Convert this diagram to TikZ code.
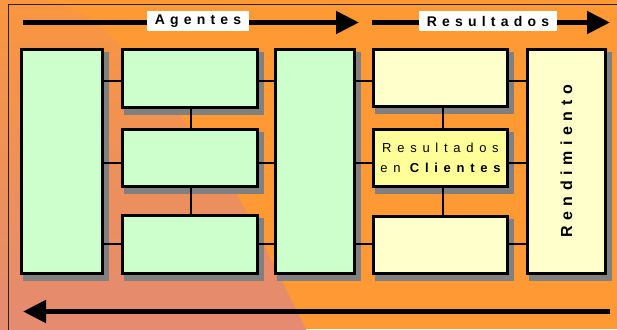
\documentclass[tikz,border=0pt]{standalone}
\usepackage{fontspec}
\setmainfont{Liberation Sans}
\usetikzlibrary{arrows.meta}
\definecolor{bgorange}{HTML}{FF9933}
\definecolor{blobtop}{HTML}{F9963F}
\definecolor{blobbot}{HTML}{E38A74}
\definecolor{boxgreen}{HTML}{CCFFCC}
\definecolor{boxcream}{HTML}{FFFFCC}
\definecolor{boxyellow}{HTML}{FFFF99}
\definecolor{shadowgray}{HTML}{808080}
\tikzset{
  panel/.style={draw=black, line width=3pt, inner sep=0pt, outer sep=0pt},
  link/.style={line width=2.7pt, black},
  flow/.style={line width=5pt, black, -{Triangle[length=23pt,width=22pt]}},
  flowlabel/.style={fill=white, inner sep=0pt, minimum height=20pt,
    font=\bfseries\fontsize{14}{14}\selectfont\addfontfeature{LetterSpace=37}},
  clienttext/.style={align=center,
    font=\fontsize{13}{20}\selectfont\addfontfeature{LetterSpace=44}},
}
\newcommand\mkpanel[7]{%
  \fill[shadowgray] (#2+3,#3+4) rectangle (#4+5,#5+6);
  \node[panel, #6, minimum width={#4-#2-3}, minimum height={#5-#3-3}]
    (#1) at ({(#2+#4)/2},{(#3+#5)/2}) {#7};
}
\begin{document}
\begin{tikzpicture}[x=1pt,y=-1pt]
\useasboundingbox (0,0) rectangle (617,329);
\fill[bgorange] (0,0) rectangle (617,329);
\shade[top color=blobtop, bottom color=blobbot]
  plot[smooth] coordinates {(40,0) (85,15) (117,43) (179,115) (237,195) (306,329) (312,340)}
  -- (0,340) -- (0,0) -- cycle;
\draw[line width=1pt, black!85] (8,5) rectangle (640,360);

% panels
\mkpanel{A}{20}{48}{104}{275}{fill=boxgreen}{}
\mkpanel{B1}{121}{48}{259}{109}{fill=boxgreen}{}
\mkpanel{B2}{121}{128}{259}{188}{fill=boxgreen}{}
\mkpanel{B3}{121}{214}{259}{275}{fill=boxgreen}{}
\mkpanel{C}{274}{48}{356}{275}{fill=boxgreen}{}
\mkpanel{D1}{372}{48}{509}{108}{fill=boxcream}{}
\mkpanel{D2}{372}{128}{509}{188}{fill=boxyellow, clienttext}{Resultados\\en {\bfseries Clientes}}
\mkpanel{D3}{372}{215}{509}{275}{fill=boxcream}{}
\mkpanel{E}{526}{48}{607}{275}{fill=boxcream}{}
\node[rotate=90, font=\bfseries\fontsize{16}{16}\selectfont\addfontfeature{LetterSpace=35}]
  (rend) at (E.center) {Rendimiento};

% connector rows
\coordinate (r1) at (0,81);
\coordinate (r2) at (0,163);
\coordinate (r3) at (0,244);
\coordinate (vb) at (191,0);
\coordinate (vd) at (443,0);
\foreach \b/\r in {B1/r1,B2/r2,B3/r3}{
  \draw[link] (A.east |- \r) -- (\b.west |- \r);
  \draw[link] (\b.east |- \r) -- (C.west |- \r);
}
\foreach \d/\r in {D1/r1,D2/r2,D3/r3}{
  \draw[link] (C.east |- \r) -- (\d.west |- \r);
  \draw[link] (\d.east |- \r) -- (E.west |- \r);
}
\draw[link] (B1.south -| vb) -- (B2.north -| vb);
\draw[link] (B2.south -| vb) -- (B3.north -| vb);
\draw[link] (D1.south -| vd) -- (D2.north -| vd);
\draw[link] (D2.south -| vd) -- (D3.north -| vd);

% flow arrows
\coordinate (ag0) at (23,22.5);
\coordinate (ag1) at (359,22.5);
\coordinate (rs0) at (372,22.5);
\coordinate (rs1) at (610,22.5);
\coordinate (bk0) at (610,311.5);
\coordinate (bk1) at (23,311.5);
\draw[flow] (ag0) -- (ag1);
\draw[flow] (rs0) -- (rs1);
\draw[flow] (bk0) -- (bk1);
\node[flowlabel, minimum width=102pt] (agl) at (198,21) {Agentes};
\node[flowlabel, minimum width=138pt] (rsl) at (488,21) {Resultados};
\end{tikzpicture}
\end{document}
